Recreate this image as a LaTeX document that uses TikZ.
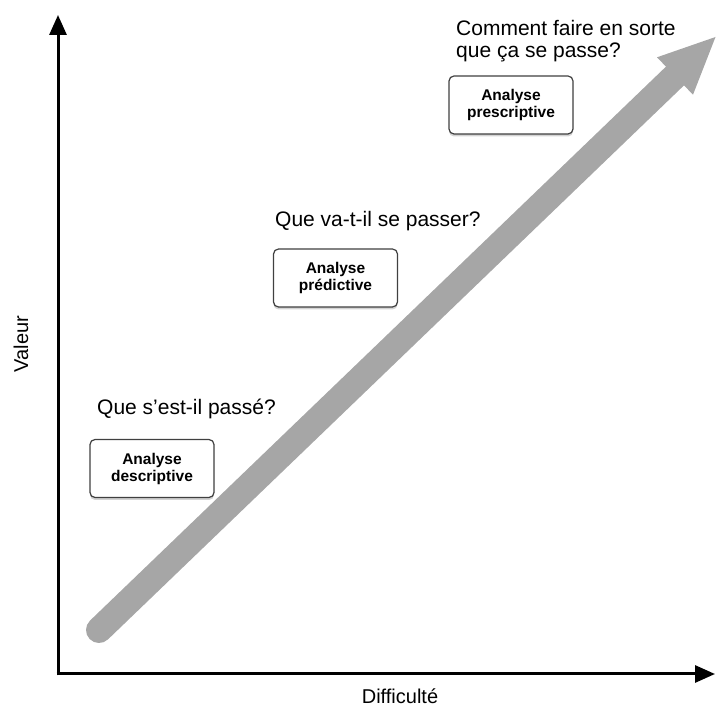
\documentclass[tikz,border=0pt]{standalone}
\usepackage{fontspec}
\setmainfont{Liberation Sans}
\usetikzlibrary{calc,shadows,arrows.meta}
\begin{document}
\begin{tikzpicture}[x=1pt,y=-1pt,
  axis/.style={line width=3pt,-{Triangle[length=20pt,width=17pt]}},
  stagebox/.style={draw=black!75,line width=1.2pt,rounded corners=5pt,fill=white,
    minimum width=124pt,minimum height=58pt,align=center,inner sep=0pt,
    font=\fontsize{15.5}{17}\selectfont\bfseries,
    drop shadow={shadow xshift=0pt,shadow yshift=-2.5pt,opacity=0.35}},
  question/.style={anchor=base west,align=left,inner sep=0pt,
    font=\fontsize{21}{22}\selectfont},
  axislabel/.style={inner sep=0pt,font=\fontsize{20}{22}\selectfont}]
\useasboundingbox (0,0) rectangle (716,708);
% axes
\coordinate (O) at (58,674);
\coordinate (Ytip) at (58,15);
\coordinate (Xtip) at (715,674);
\draw[axis] ($(O)+(0,1.5)$) -- (Ytip);
\draw[axis] ($(O)+(-1.5,0)$) -- (Xtip);
\node[axislabel,anchor=base] (xl) at (400,703.5) {Difficulté};
\node[axislabel,rotate=90] (yl) at (21,344) {Valeur};
% big gray arrow
\coordinate (S) at (99,630);
\coordinate (B) at (675,76);
\coordinate (HL) at (657,57.3);
\coordinate (HR) at (693,94.7);
\coordinate (T) at (715.5,37);
\draw[line width=26pt,line cap=round,color=black!35] (S) -- (B);
\fill[black!35] (HL) -- (T) -- (HR) -- cycle;
% boxes
\node[stagebox] (desc) at (152,468.5) {Analyse\\descriptive};
\node[stagebox] (pred) at (335.5,278) {Analyse\\prédictive};
\node[stagebox] (presc) at (511,105) {Analyse\\prescriptive};
% questions
\node[question] (q1) at (97,415) {Que s'est-il passé?};
\node[question] (q2) at (275,227) {Que va-t-il se passer?};
\node[question] (q3) at (456,58) {Comment faire en sorte\\que ça se passe?};
\end{tikzpicture}
\end{document}
